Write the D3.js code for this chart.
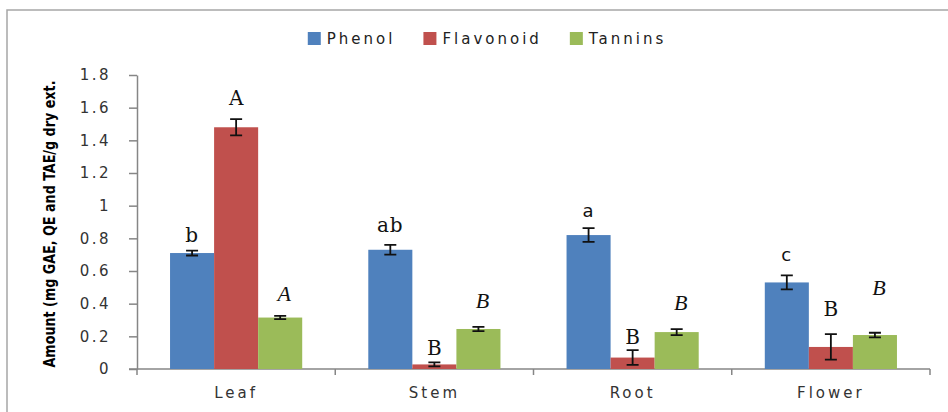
<!DOCTYPE html>
<html>
<head>
<meta charset="utf-8">
<script src="https://cdn.jsdelivr.net/npm/d3@7"></script>
<style>
  body { margin: 0; background: #fff; }
  svg { display: block; }
</style>
</head>
<body>
<svg id="chart"></svg>
<script>
const categories = ['Leaf', 'Stem', 'Root', 'Flower'];
const seriesNames = ['Phenol', 'Flavonoid', 'Tannins'];

const phenol = [0.71, 0.73, 0.82, 0.53];
const flavonoid = [1.48, 0.028, 0.07, 0.135];
const tannins = [0.315, 0.245, 0.226, 0.208];

const phenolErr = [0.015, 0.03, 0.042, 0.043];
const flavonoidErr = [0.05, 0.012, 0.045, 0.078];
const tanninsErr = [0.01, 0.013, 0.018, 0.014];

// significance letters and the height (in data units) they sit at
const phenolLetters = ['b', 'ab', 'a', 'c'];
const flavonoidLetters = ['A', 'B', 'B', 'B'];
const tanninsLetters = ['A', 'B', 'B', 'B'];
const phenolLetterAt = [0.82, 0.88, 0.97, 0.7];
const flavonoidLetterAt = [1.66, 0.13, 0.196, 0.367];
const tanninsLetterAt = [0.465, 0.42, 0.41, 0.5];

const yTicks = [0, 0.2, 0.4, 0.6, 0.8, 1, 1.2, 1.4, 1.6, 1.8];
const yTickLabels = ['0', '0.2', '0.4', '0.6', '0.8', '1', '1.2', '1.4', '1.6', '1.8'];
const yTitle = 'Amount (mg GAE, QE and TAE/g dry ext.';

const colors = ['#4F81BD', '#C0504D', '#9BBB59'];

const width = 948;
const height = 412;
const margin = { top: 75, right: 18, bottom: 43, left: 137 };

const series = [
  { name: seriesNames[0], values: phenol, err: phenolErr, letters: phenolLetters, at: phenolLetterAt },
  { name: seriesNames[1], values: flavonoid, err: flavonoidErr, letters: flavonoidLetters, at: flavonoidLetterAt },
  { name: seriesNames[2], values: tannins, err: tanninsErr, letters: tanninsLetters, at: tanninsLetterAt }
];

const rows = [];
series.forEach((s, si) => {
  categories.forEach((c, ci) => {
    rows.push({
      cat: c,
      name: s.name,
      si: si,
      value: s.values[ci],
      err: s.err[ci],
      letter: s.letters[ci],
      at: s.at[ci]
    });
  });
});

const svg = d3.select('#chart').attr('width', width).attr('height', height);

// outer frame
svg
  .append('rect')
  .attr('x', 7)
  .attr('y', 10)
  .attr('width', width + 20)
  .attr('height', height + 20)
  .attr('fill', 'none')
  .attr('stroke', '#a6a6a6')
  .attr('stroke-width', 1.5);

const x0 = d3
  .scaleBand()
  .domain(categories)
  .range([margin.left, width - margin.right]);

const x1 = d3
  .scaleBand()
  .domain(seriesNames)
  .range([0, x0.bandwidth()])
  .paddingOuter(0.75);

const y = d3
  .scaleLinear()
  .domain([0, 1.8])
  .range([height - margin.bottom, margin.top]);

// y axis
svg
  .append('g')
  .attr('transform', `translate(${margin.left},0)`)
  .call(
    d3
      .axisLeft(y)
      .tickValues(yTicks)
      .tickFormat((d, i) => yTickLabels[i])
      .tickSize(8)
      .tickSizeOuter(0)
      .tickPadding(18)
  )
  .call((g) => g.select('.domain').attr('stroke', '#868686').attr('stroke-width', 1.5))
  .call((g) => g.selectAll('.tick line').attr('stroke', '#868686').attr('stroke-width', 1.5))
  .call((g) =>
    g
      .selectAll('.tick text')
      .attr('font-family', 'DejaVu Sans, sans-serif')
      .attr('font-size', 15)
      .attr('letter-spacing', '2.5px')
      .attr('fill', '#333')
  );

// x axis with ticks at category boundaries
const xAxis = svg
  .append('g')
  .attr('transform', `translate(0,${height - margin.bottom})`);

xAxis
  .append('line')
  .attr('x1', margin.left - 8)
  .attr('x2', width - margin.right)
  .attr('stroke', '#868686')
  .attr('stroke-width', 1.5);

xAxis
  .selectAll('.bound')
  .data(categories)
  .join('line')
  .attr('class', 'bound')
  .attr('x1', (d) => x0(d) + x0.step())
  .attr('x2', (d) => x0(d) + x0.step())
  .attr('y1', 0)
  .attr('y2', 6)
  .attr('stroke', '#868686')
  .attr('stroke-width', 1.5);

xAxis
  .append('line')
  .attr('x1', margin.left)
  .attr('x2', margin.left)
  .attr('y1', 0)
  .attr('y2', 6)
  .attr('stroke', '#868686')
  .attr('stroke-width', 1.5);

xAxis
  .selectAll('.cat')
  .data(categories)
  .join('text')
  .attr('class', 'cat')
  .attr('x', (d) => x0(d) + x0.bandwidth() / 2)
  .attr('y', 29)
  .attr('text-anchor', 'middle')
  .attr('font-family', 'DejaVu Sans, sans-serif')
  .attr('font-size', 15)
  .attr('letter-spacing', '3px')
  .attr('fill', '#333')
  .text((d) => d);

// y title
svg
  .append('text')
  .attr('transform', `translate(55,${(margin.top + height - margin.bottom) / 2 + 2}) rotate(-90)`)
  .attr('text-anchor', 'middle')
  .attr('font-family', 'Liberation Sans Narrow, DejaVu Sans Condensed, sans-serif')
  .attr('font-weight', 'bold')
  .attr('font-size', 15)
  .attr('textLength', 287)
  .attr('lengthAdjust', 'spacingAndGlyphs')
  .attr('fill', '#000')
  .text(yTitle);

// bars
svg
  .append('g')
  .selectAll('rect')
  .data(rows)
  .join('rect')
  .attr('x', (d) => x0(d.cat) + x1(d.name))
  .attr('y', (d) => y(d.value))
  .attr('width', x1.bandwidth())
  .attr('height', (d) => y(0) - y(d.value))
  .attr('fill', (d) => colors[d.si]);

// error bars
svg
  .append('g')
  .attr('stroke', '#111')
  .attr('stroke-width', 1.8)
  .attr('fill', 'none')
  .selectAll('path')
  .data(rows)
  .join('path')
  .attr('d', (d) => {
    const cx = x0(d.cat) + x1(d.name) + x1.bandwidth() / 2;
    const lo = y(Math.max(0, d.value - d.err));
    const hi = y(d.value + d.err);
    return `M${cx - 6},${hi}H${cx + 6}M${cx},${hi}V${lo}M${cx - 6},${lo}H${cx + 6}`;
  });

// significance letters
const sansLetters = new Set(['a', 'c']);
svg
  .append('g')
  .selectAll('text')
  .data(rows)
  .join('text')
  .attr('x', (d) => x0(d.cat) + x1(d.name) + x1.bandwidth() / 2 + (d.si === 2 ? 4 : 0))
  .attr('y', (d) => y(d.at))
  .attr('dy', '0.35em')
  .attr('text-anchor', 'middle')
  .attr('font-family', (d) =>
    d.si === 2
      ? 'Liberation Serif, serif'
      : sansLetters.has(d.letter)
      ? 'DejaVu Sans, sans-serif'
      : 'DejaVu Serif, serif'
  )
  .attr('font-style', (d) => (d.si === 2 ? 'italic' : 'normal'))
  .attr('font-size', (d) => (d.si === 2 ? 22 : sansLetters.has(d.letter) ? 18 : 20))
  .attr('letter-spacing', (d) => (d.si === 0 ? '1px' : '0px'))
  .attr('fill', '#111')
  .text((d) => d.letter);

// legend
const legend = svg.append('g').attr('transform', 'translate(0,39)');
const items = legend
  .selectAll('g')
  .data(seriesNames)
  .join('g');

items
  .append('rect')
  .attr('y', -7)
  .attr('width', 13)
  .attr('height', 13)
  .attr('fill', (d, i) => colors[i]);

items
  .append('text')
  .attr('x', 19)
  .attr('dy', '0.35em')
  .attr('font-family', 'DejaVu Sans, sans-serif')
  .attr('font-size', 15)
  .attr('letter-spacing', '3px')
  .attr('fill', '#222')
  .text((d) => d);

let lx = 0;
const offsets = [];
items.each(function () {
  offsets.push(lx);
  lx += 19 + d3.select(this).select('text').node().getComputedTextLength() + 28;
});
const total = lx - 28;
const start = 487 - total / 2;
items.attr('transform', (d, i) => `translate(${start + offsets[i]},0)`);
</script>
</body>
</html>
